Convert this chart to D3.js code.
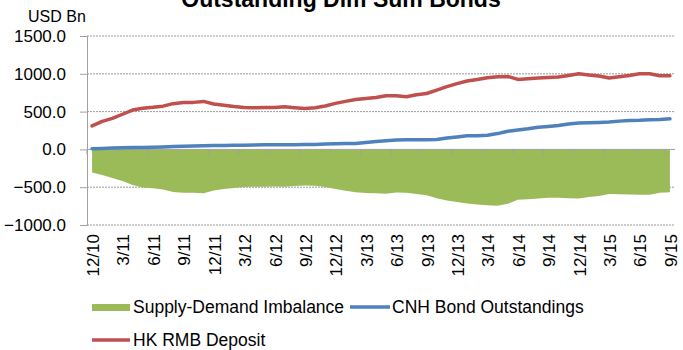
<!DOCTYPE html>
<html>
<head>
<meta charset="utf-8">
<script src="https://cdn.jsdelivr.net/npm/d3@7"></script>
<style>
  body { margin: 0; background: #fff; }
  svg { display: block; font-family: "Liberation Sans", Arial, sans-serif; }
</style>
</head>
<body>
<svg width="683" height="350"></svg>
<script>
// month categories, 12/10 .. 9/15
var months = ["12/10",
  "1/11","2/11","3/11","4/11","5/11","6/11","7/11","8/11","9/11","10/11","11/11","12/11",
  "1/12","2/12","3/12","4/12","5/12","6/12","7/12","8/12","9/12","10/12","11/12","12/12",
  "1/13","2/13","3/13","4/13","5/13","6/13","7/13","8/13","9/13","10/13","11/13","12/13",
  "1/14","2/14","3/14","4/14","5/14","6/14","7/14","8/14","9/14","10/14","11/14","12/14",
  "1/15","2/15","3/15","4/15","5/15","6/15","7/15","8/15","9/15"];

var tickLabels = ["12/10","3/11","6/11","9/11","12/11","3/12","6/12","9/12","12/12","3/13",
  "6/13","9/13","12/13","3/14","6/14","9/14","12/14","3/15","6/15","9/15"];

var yTicks = [1500, 1000, 500, 0, -500, -1000];

// HK RMB Deposit
var deposit = [310, 370, 410, 465, 520, 545, 557, 572, 605, 620, 622, 635, 600,
  583, 567, 555, 552, 553, 555, 565, 552, 540, 552, 574, 609,
  635, 661, 674, 687, 710, 709, 696, 722, 739, 783, 830, 870,
  905, 925, 948, 961, 965, 926, 935, 944, 950, 957, 978, 1000,
  983, 970, 944, 961, 978, 1000, 1000, 974, 974];

// CNH Bond Outstandings
var bonds = [9, 13, 17, 22, 24, 26, 30, 33, 37, 42, 46, 48, 50,
  52, 54, 56, 58, 60, 62, 63, 63, 65, 66, 72, 76,
  78, 79, 92, 105, 115, 124, 126, 127, 128, 132, 150, 165,
  180, 180, 187, 209, 240, 258, 272, 292, 304, 317, 337, 348,
  352, 357, 361, 374, 382, 384, 391, 396, 404];

// Supply-Demand Imbalance
var imbalance = [-305, -340, -378, -418, -470, -505, -513, -530, -565, -574, -574, -580, -545,
  -525, -510, -498, -494, -493, -492, -495, -485, -478, -482, -496, -525,
  -548, -568, -578, -580, -585, -570, -572, -590, -605, -645, -675, -695,
  -715, -728, -740, -745, -720, -665, -660, -650, -640, -638, -645, -650,
  -630, -615, -590, -592, -598, -600, -600, -575, -568];

var svg = d3.select("svg");

var plotL = 87, plotR = 675, plotT = 36, plotB = 225;

var x = d3.scaleBand().domain(d3.range(months.length)).range([plotL, plotR]).padding(0);
var y = d3.scaleLinear().domain([-1000, 1500]).range([plotB, plotT]);

function cx(i) { return x(i) + x.bandwidth() / 2; }

// title, cut off at the top like the original
svg.append("text")
  .attr("x", 341).attr("y", 7)
  .attr("text-anchor", "middle")
  .style("font-size", "23px").style("font-weight", "bold")
  .text("Outstanding Dim Sum Bonds");

svg.append("text")
  .attr("x", 28).attr("y", 22)
  .style("font-size", "16px")
  .text("USD Bn");

// gridlines
svg.append("g").selectAll("line")
  .data(yTicks.filter(function(d) { return d !== 0; }))
  .enter().append("line")
  .attr("x1", plotL).attr("x2", plotR)
  .attr("y1", function(d) { return y(d); }).attr("y2", function(d) { return y(d); })
  .attr("stroke", "#808080").attr("stroke-width", 0.8)
  .attr("stroke-dasharray", "2,1");

// imbalance area below zero
var area = d3.area()
  .x(function(d, i) { return cx(i); })
  .y0(y(0))
  .y1(function(d) { return y(d); });

svg.append("path")
  .datum(imbalance)
  .attr("d", area)
  .attr("fill", "#9BBB59");

// y axis
var yAxis = d3.axisLeft(y).tickValues(yTicks).tickSize(7)
  .tickFormat(function(d) { return d3.format(".1f")(d); });
var gy = svg.append("g").attr("transform", "translate(" + plotL + ",0)").call(yAxis);
gy.select(".domain").attr("stroke", "#a0a0a0");
gy.selectAll(".tick line").attr("stroke", "#a0a0a0");
gy.selectAll(".tick text").attr("x", -21).style("font-size", "17px").attr("fill", "#000")
  .style("font-family", "Liberation Sans, Arial, sans-serif");

// x axis at zero
var gx = svg.append("g");
gx.append("line")
  .attr("x1", plotL).attr("x2", plotR)
  .attr("y1", y(0)).attr("y2", y(0))
  .attr("stroke", "#a0a0a0");

var tickIdx = d3.range(0, months.length, 3);
gx.selectAll(".xt").data(tickIdx).enter().append("line")
  .attr("class", "xt")
  .attr("x1", function(d) { return x(d); }).attr("x2", function(d) { return x(d); })
  .attr("y1", y(0)).attr("y2", y(0) + 5)
  .attr("stroke", "#a0a0a0");

svg.append("g").selectAll("text")
  .data(tickIdx).enter().append("text")
  .attr("transform", function(d) { return "translate(" + (cx(d) + 1) + ",234) rotate(-90)"; })
  .attr("text-anchor", "end")
  .attr("dy", "0.35em")
  .style("font-size", "17px")
  .text(function(d, i) { return tickLabels[i]; });

// lines
var line = d3.line()
  .x(function(d, i) { return cx(i); })
  .y(function(d) { return y(d); });

svg.append("path").datum(bonds).attr("d", line)
  .attr("fill", "none").attr("stroke", "#4F81BD").attr("stroke-width", 3.5)
  .attr("stroke-linejoin", "round").attr("stroke-linecap", "round");

svg.append("path").datum(deposit).attr("d", line)
  .attr("fill", "none").attr("stroke", "#C0504D").attr("stroke-width", 3.5)
  .attr("stroke-linejoin", "round").attr("stroke-linecap", "round");

// legend
var legend = svg.append("g").style("font-size", "17.5px");

legend.append("rect").attr("x", 92).attr("y", 304).attr("width", 38).attr("height", 7).attr("fill", "#9BBB59");
legend.append("text").attr("x", 133).attr("y", 307).attr("dy", "0.35em").text("Supply-Demand Imbalance");

legend.append("line").attr("x1", 350).attr("x2", 390).attr("y1", 307).attr("y2", 307)
  .attr("stroke", "#4F81BD").attr("stroke-width", 3.5);
legend.append("text").attr("x", 392).attr("y", 307).attr("dy", "0.35em").text("CNH Bond Outstandings");

legend.append("line").attr("x1", 92).attr("x2", 130).attr("y1", 340).attr("y2", 340)
  .attr("stroke", "#C0504D").attr("stroke-width", 3.5);
legend.append("text").attr("x", 133).attr("y", 340).attr("dy", "0.35em").text("HK RMB Deposit");
</script>
</body>
</html>
